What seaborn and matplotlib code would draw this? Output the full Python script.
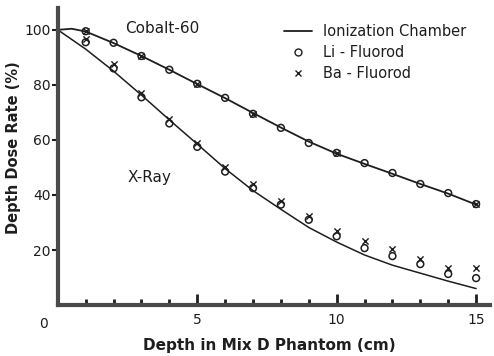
import matplotlib
matplotlib.use("Agg")
import matplotlib.pyplot as plt
from matplotlib.lines import Line2D
import seaborn as sns
import pandas as pd

# ---- data ----
depth_line_co = [0, 0.5, 1, 2, 3, 4, 5, 6, 7, 8, 9, 10, 11, 12, 13, 14, 15]
cobalt_chamber = [100, 100.4, 99.4, 95.2, 90.5, 85.5, 80.3, 75.2, 69.8, 64.5, 59.4, 55.0, 51.3, 47.7, 44.0, 40.5, 36.5]
depth_line_x = [0, 1, 2, 3, 4, 5, 6, 7, 8, 9, 10, 11, 12, 13, 14, 15]
xray_chamber = [100, 93, 85, 76.3, 67.3, 58.5, 49.6, 41.6, 34.8, 28.2, 22.9, 18.2, 14.5, 11.6, 8.7, 6.0]

depth_pts = [1, 2, 3, 4, 5, 6, 7, 8, 9, 10, 11, 12, 13, 14, 15]
cobalt_li = [99.5, 95.3, 90.5, 85.5, 80.4, 75.3, 69.5, 64.4, 58.9, 55.3, 51.6, 48.0, 44.0, 40.7, 36.7]
xray_li = [95.5, 86.0, 75.5, 66.0, 57.5, 48.5, 42.5, 36.5, 31.0, 25.0, 20.7, 17.8, 14.9, 11.3, 9.8]
xray_ba = [96.5, 87.5, 77.0, 67.5, 59.0, 50.0, 44.0, 38.0, 32.5, 27.0, 23.3, 20.4, 16.7, 13.5, 13.5]
depth_ba_co = [1, 3, 5, 7, 10, 15]
cobalt_ba = [99.5, 90.5, 80.4, 69.5, 55.3, 36.7]

y_ticks = [20, 40, 60, 80, 100]
x_ticks = [5, 10, 15]

ink = "#1e1e1e"
sns.set_theme(style="white")
plt.rcParams["font.family"] = ["DejaVu Sans"]

fig = plt.figure(figsize=(4.94, 3.56), dpi=100)
ax = fig.add_axes([0.117, 0.143, 0.875, 0.835])

co_line = pd.DataFrame({"d": depth_line_co, "v": cobalt_chamber})
xr_line = pd.DataFrame({"d": depth_line_x, "v": xray_chamber})
sns.lineplot(data=co_line, x="d", y="v", ax=ax, color=ink, lw=1.3)
sns.lineplot(data=xr_line, x="d", y="v", ax=ax, color=ink, lw=1.1)

ax.scatter(depth_pts, cobalt_li, s=24, facecolor="none", edgecolor=ink, lw=1.1, zorder=3)
ax.scatter(depth_pts, xray_li, s=24, facecolor="none", edgecolor=ink, lw=1.1, zorder=3)
ax.scatter(depth_pts, xray_ba, s=20, marker="x", color=ink, lw=1.0, zorder=3)
ax.scatter(depth_ba_co, cobalt_ba, s=20, marker="x", color=ink, lw=1.0, zorder=3)

ax.set_xlim(0, 15.5)
ax.set_ylim(0, 108)

for s in ["top", "right"]:
    ax.spines[s].set_visible(False)
for s in ["left", "bottom"]:
    ax.spines[s].set_color("#4a4a4a")
    ax.spines[s].set_linewidth(3)

ax.set_yticks(y_ticks)
ax.set_yticklabels([str(v) for v in y_ticks], fontsize=10, color=ink)
ax.tick_params(axis="y", direction="out", length=4, width=1.5, color=ink, pad=1, left=True)
ax.set_xticks(x_ticks)
ax.set_xticklabels([str(v) for v in x_ticks], fontsize=10, color=ink)
ax.set_xticks(list(range(1, 16)), minor=True)
ax.tick_params(axis="x", which="major", direction="in", length=8, width=2, color=ink, pad=6, bottom=True)
ax.tick_params(axis="x", which="minor", direction="in", length=4, width=2, color=ink, bottom=True)
ax.text(-0.52, -4.5, "0", fontsize=10, color=ink, ha="center", va="top")

ax.set_xlabel("Depth in Mix D Phantom (cm)", fontsize=11, fontweight="bold", color=ink, labelpad=0)
ax.set_ylabel("Depth Dose Rate (%)", fontsize=10.5, fontweight="bold", color=ink, labelpad=3)
ax.xaxis.set_label_coords(0.49, -0.11)
ax.yaxis.set_label_coords(-0.084, 0.53)

ax.text(3.75, 100.5, "Cobalt-60", fontsize=11, color=ink, ha="center", va="center")
ax.text(3.3, 46.5, "X-Ray", fontsize=11, color=ink, ha="center", va="center")

handles = [
    Line2D([], [], color=ink, lw=1.3),
    Line2D([], [], ls="none", marker="o", mfc="none", mec=ink, ms=5),
    Line2D([], [], ls="none", marker="x", color=ink, ms=5),
]
ax.legend(handles, ["Ionization Chamber", "Li - Fluorod", "Ba - Fluorod"],
          loc="upper left", bbox_to_anchor=(284 / 494, 1 - 24 / 356),
          bbox_transform=fig.transFigure, borderpad=0, borderaxespad=0,
          frameon=False, fontsize=10.5, handlelength=1.9, handletextpad=0.8,
          labelspacing=0.42, labelcolor=ink)

fig.savefig("out.png", dpi=100)
